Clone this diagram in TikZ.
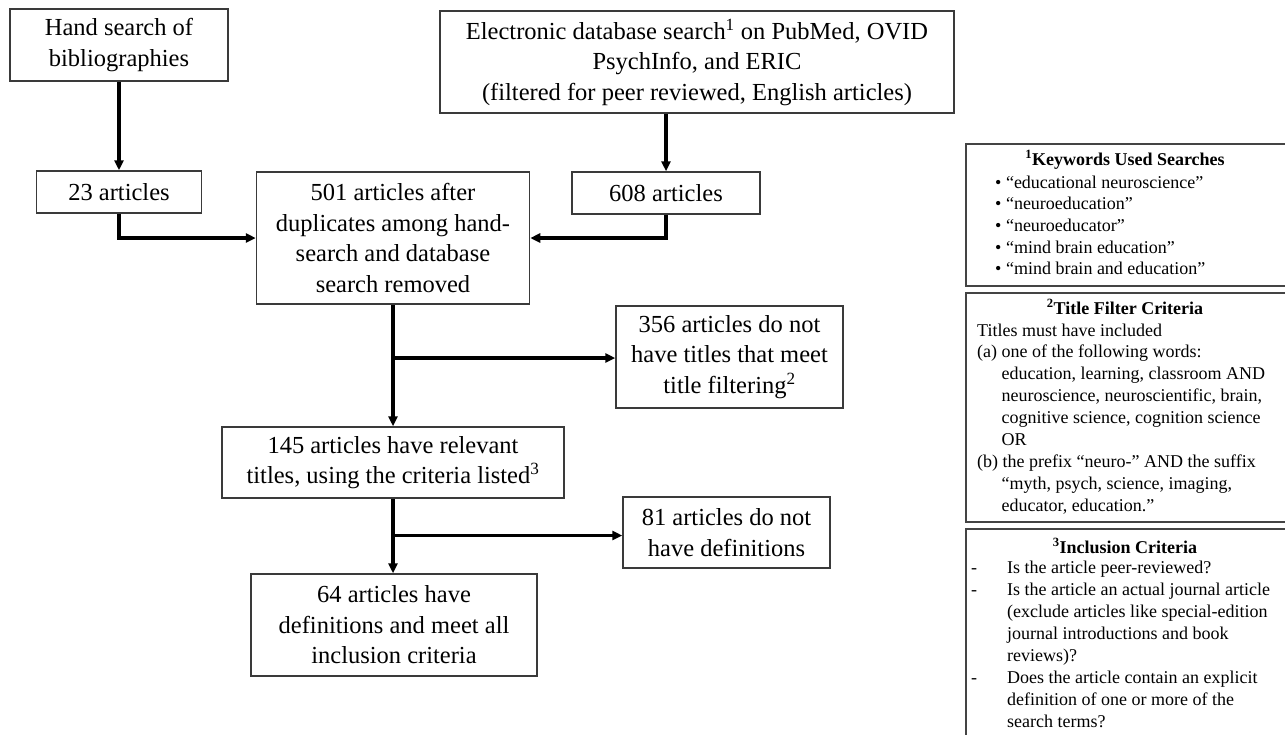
\documentclass[tikz,border=0pt]{standalone}
\usepackage{fontspec}
\setmainfont{Liberation Serif}
\usetikzlibrary{arrows.meta}
\newcommand\mainfs{\fontsize{24.5}{30.5}\selectfont}
\newcommand\smallfs{\fontsize{18}{21.9}\selectfont}
\definecolor{boxgray}{HTML}{3A3A3A}
\definecolor{rgray}{HTML}{444444}
\begin{document}
\begin{tikzpicture}[x=1pt,y=-1pt,
  box/.style={draw=boxgray,line width=1.5pt,inner sep=0pt,align=center,font=\mainfs,text=black},
  rbox/.style={draw=rgray,line width=2pt,inner sep=0pt,anchor=north west},
  arr/.style={line width=3.3pt,-{Triangle[length=10pt,width=9pt]}},
  rtitle/.style={font=\smallfs\bfseries,anchor=base,inner sep=0pt,text=black},
  rline/.style={font=\smallfs,anchor=base west,inner sep=0pt,text=black}]
\useasboundingbox (0,0) rectangle (1285,734);
\clip (0,0) rectangle (1285,734);

% main flow boxes
\node[box, minimum width=218, minimum height=72] (hand) at (119,45) {Hand search of\\bibliographies};
\node[box, minimum width=514, minimum height=102] (elec) at (697,62) {Electronic database search\textsuperscript{1} on PubMed, OVID\\PsychInfo, and ERIC\\(filtered for peer reviewed, English articles)};
\node[box, minimum width=165, minimum height=42] (a23) at (119,192) {23 articles};
\node[box, minimum width=273, minimum height=132] (a501) at (393,238) {501 articles after\\duplicates among hand-\\search and database\\search removed};
\node[box, minimum width=188, minimum height=42] (a608) at (666,193) {608 articles};
\node[box, minimum width=227, minimum height=102] (a356) at (729.5,357) {356 articles do not\\have titles that meet\\title filtering\textsuperscript{2}};
\node[box, minimum width=342, minimum height=71] (a145) at (393,462.5) {145 articles have relevant\\titles, using the criteria listed\textsuperscript{3}};
\node[box, minimum width=286, minimum height=102] (a64) at (394,625) {64 articles have\\definitions and meet all\\inclusion criteria};
\node[box, minimum width=207, minimum height=71] (a81) at (726.5,532.5) {81 articles do not\\have definitions};

% connectors
\draw[arr] (hand) -- (a23);
\draw[arr] (elec.south -| a608.north) -- (a608.north);
\draw[arr] (a23.south) |- (a501.west);
\draw[arr] (a608.south) |- (a501.east);
\draw[arr] (a501.south) -- (a145.north);
\coordinate (b1) at (393,358);
\draw[arr] (b1) -- (b1 -| a356.west);
\draw[arr] (a145.south) -- (a145.south |- a64.north);
\coordinate (b2) at (393,535.5);
\draw[arr] (b2) -- (b2 -| a81.west);

% right-hand note boxes
\node[rbox, minimum width=322, minimum height=142] (k1) at (965,143) {};
\node[rtitle] (k1t) at (1125,165) {\textsuperscript{1}Keywords Used Searches};
\node[rline] (k1a) at (995,188) {• “educational neuroscience”};
\node[rline] (k1b) at (995,209.7) {• “neuroeducation”};
\node[rline] (k1c) at (995,231.4) {• “neuroeducator”};
\node[rline] (k1d) at (995,253.1) {• “mind brain education”};
\node[rline] (k1e) at (995,274.8) {• “mind brain and education”};

\node[rbox, minimum width=322, minimum height=229] (k2) at (965,292) {};
\node[rtitle] (k2t) at (1125,314) {\textsuperscript{2}Title Filter Criteria};
\node[rline] (k2a) at (977,336) {Titles must have included};
\node[rline] (k2b) at (977,357.9) {(a) one of the following words:};
\node[rline] (k2c) at (977,379.8) {\hphantom{(a) }education, learning, classroom AND};
\node[rline] (k2d) at (977,401.7) {\hphantom{(a) }neuroscience, neuroscientific, brain,};
\node[rline] (k2e) at (977,423.6) {\hphantom{(a) }cognitive science, cognition science};
\node[rline] (k2f) at (977,445.5) {\hphantom{(a) }OR};
\node[rline] (k2g) at (977,467.4) {(b) the prefix “neuro-” AND the suffix};
\node[rline] (k2h) at (977,489.3) {\hphantom{(a) }“myth, psych, science, imaging,};
\node[rline] (k2i) at (977,511.2) {\hphantom{(a) }educator, education.”};

\node[rbox, minimum width=322, minimum height=217] (k3) at (965,528) {};
\node[rtitle] (k3t) at (1125,553) {\textsuperscript{3}Inclusion Criteria};
\node[rline] (k3a) at (971,573) {\makebox[36pt][l]{-}Is the article peer-reviewed?};
\node[rline] (k3b) at (971,595.1) {\makebox[36pt][l]{-}Is the article an actual journal article};
\node[rline] (k3c) at (971,617.2) {\hspace*{36pt}(exclude articles like special-edition};
\node[rline] (k3d) at (971,639.3) {\hspace*{36pt}journal introductions and book};
\node[rline] (k3e) at (971,661.4) {\hspace*{36pt}reviews)?};
\node[rline] (k3f) at (971,683.5) {\makebox[36pt][l]{-}Does the article contain an explicit};
\node[rline] (k3g) at (971,705.6) {\hspace*{36pt}definition of one or more of the};
\node[rline] (k3h) at (971,727.7) {\hspace*{36pt}search terms?};
\end{tikzpicture}
\end{document}
